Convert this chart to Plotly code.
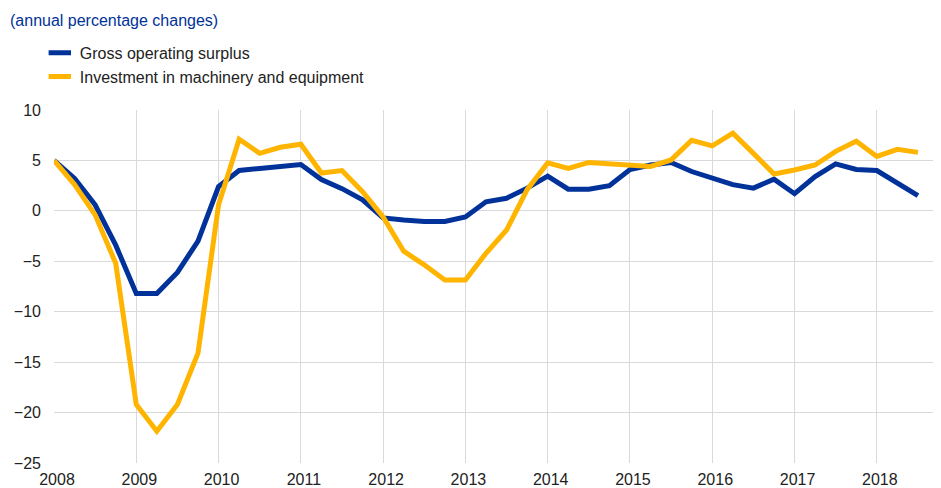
import plotly.graph_objects as go

quarters = [f"{y}Q{q}" for y in range(2008, 2019) for q in range(1, 5)][:43]
gross_operating_surplus = [5.0, 3.2, 0.6, -3.4, -8.2, -8.2, -6.1, -3.0, 2.4, 4.0, 4.2, 4.45,
                           4.6, 3.1, 2.2, 1.1, -0.7, -0.9, -1.05, -1.05, -0.6, 0.9, 1.25, 2.25,
                           3.45, 2.15, 2.15, 2.5, 4.1, 4.55, 4.8, 3.9, 3.2, 2.6, 2.25, 3.15,
                           1.7, 3.4, 4.65, 4.1, 4.0, 2.8, 1.5]
investment_machinery = [5.0, 2.6, -0.4, -5.2, -19.2, -21.85, -19.2, -14.1, 0.6, 7.1, 5.7, 6.3,
                        6.6, 3.75, 4.0, 1.9, -0.6, -4.0, -5.35, -6.85, -6.85, -4.2, -1.9, 2.1,
                        4.75, 4.2, 4.8, 4.7, 4.55, 4.4, 5.05, 7.0, 6.45, 7.7, 5.7, 3.65,
                        4.05, 4.55, 5.9, 6.9, 5.4, 6.1, 5.8]
series_names = ["Gross operating surplus", "Investment in machinery and equipment"]
year_ticks = list(range(2008, 2019))
y_ticks = [10, 5, 0, -5, -10, -15, -20, -25]


def q_to_num(q):
    return int(q[:4]) + (int(q[-1]) - 1) / 4


x = [q_to_num(q) for q in quarters]

BLUE = "#003299"
YELLOW = "#FFB400"
FONT = "Liberation Sans, Arial, sans-serif"

# the page body has an 8px default margin, so the figure is 8px smaller
W, H = 933, 480

fig = go.Figure()
for vals, name, col in [(gross_operating_surplus, series_names[0], BLUE),
                        (investment_machinery, series_names[1], YELLOW)]:
    fig.add_trace(go.Scatter(x=x, y=vals, mode="lines", name=name, showlegend=False,
                             legendgroup=name, line=dict(color=col, width=5)))
for name, col in [(series_names[0], BLUE), (series_names[1], YELLOW)]:
    fig.add_trace(go.Scatter(x=[None], y=[None], mode="markers", name=name,
                             legendgroup=name,
                             marker=dict(symbol="line-ew", size=18, color=col,
                                         line=dict(color=col, width=5))))

fig.update_layout(
    width=W, height=H,
    margin=dict(l=46, r=0, t=102, b=25, autoexpand=False),
    plot_bgcolor="white", paper_bgcolor="white",
    font=dict(family=FONT, size=16, color="#222222"),
    title=dict(text="(annual percentage changes)", x=2 / W, xanchor="left",
               y=1 - 12 / H, yanchor="middle",
               font=dict(family=FONT, size=16, color=BLUE)),
    legend=dict(x=-0.016, y=1.21, xanchor="left", yanchor="top",
                font=dict(family=FONT, size=16, color="#222222"),
                bgcolor="rgba(0,0,0,0)", itemwidth=30, tracegroupgap=0),
    showlegend=True,
)
fig.update_xaxes(range=[2008, 2018.78], tickvals=year_ticks,
                 ticktext=[str(t) for t in year_ticks],
                 showgrid=True, gridcolor="#d9d9d9", gridwidth=1,
                 zeroline=False, showline=False, ticks="", ticklabelstandoff=5,
                 ticklabelshift=3, automargin=False)
fig.update_yaxes(range=[-25, 10], tickvals=y_ticks,
                 showgrid=True, gridcolor="#d9d9d9", gridwidth=1,
                 zeroline=False, showline=False, ticks="", ticklabelstandoff=12,
                 automargin=False)

fig.write_html("out.html")
